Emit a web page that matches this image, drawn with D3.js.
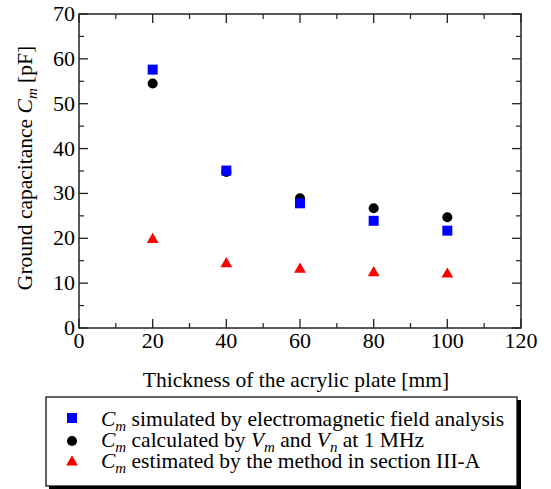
<!DOCTYPE html>
<html><head><meta charset="utf-8">
<script src="https://cdn.jsdelivr.net/npm/d3@7"></script>
<style>body{margin:0;background:#fff}svg{display:block}</style>
</head><body><svg id="c" width="551" height="489" font-family="'Liberation Serif', 'Times New Roman', Times, serif"></svg>
<script>
const thickness = [20, 40, 60, 80, 100];
const simulated = [57.6, 35.1, 27.8, 23.9, 21.7];
const calculated = [54.5, 34.8, 28.9, 26.7, 24.7];
const estimated = [19.7, 14.3, 13.1, 12.3, 12.0];
const xTicks = [0, 20, 40, 60, 80, 100, 120];
const yTicks = [0, 10, 20, 30, 40, 50, 60, 70];

const svg = d3.select("#c");
const L = 79, R = 521, T = 14, B = 328;
const x = d3.scaleLinear().domain([0, 120]).range([L, R]);
const y = d3.scaleLinear().domain([0, 70]).range([B, T]);
const axCol = "#222";

svg.append("rect").attr("x", L).attr("y", T).attr("width", R - L).attr("height", B - T)
  .attr("fill", "none").attr("stroke", axCol).attr("stroke-width", 1.5);

const g = svg.append("g");
const xMinor = d3.range(10, 120, 20);
const yMinor = d3.range(5, 70, 10);
xTicks.forEach(v => {
  g.append("line").attr("x1", x(v)).attr("x2", x(v)).attr("y1", B).attr("y2", B - 9).attr("stroke", axCol).attr("stroke-width", 1.3);
  g.append("line").attr("x1", x(v)).attr("x2", x(v)).attr("y1", T).attr("y2", T + 9).attr("stroke", axCol).attr("stroke-width", 1.3);
});
xMinor.forEach(v => {
  g.append("line").attr("x1", x(v)).attr("x2", x(v)).attr("y1", B).attr("y2", B - 5).attr("stroke", axCol).attr("stroke-width", 1.2);
  g.append("line").attr("x1", x(v)).attr("x2", x(v)).attr("y1", T).attr("y2", T + 5).attr("stroke", axCol).attr("stroke-width", 1.2);
});
yTicks.forEach(v => {
  g.append("line").attr("x1", L).attr("x2", L + 9).attr("y1", y(v)).attr("y2", y(v)).attr("stroke", axCol).attr("stroke-width", 1.3);
  g.append("line").attr("x1", R).attr("x2", R - 9).attr("y1", y(v)).attr("y2", y(v)).attr("stroke", axCol).attr("stroke-width", 1.3);
});
yMinor.forEach(v => {
  g.append("line").attr("x1", L).attr("x2", L + 5).attr("y1", y(v)).attr("y2", y(v)).attr("stroke", axCol).attr("stroke-width", 1.2);
  g.append("line").attr("x1", R).attr("x2", R - 5).attr("y1", y(v)).attr("y2", y(v)).attr("stroke", axCol).attr("stroke-width", 1.2);
});

xTicks.forEach(v => {
  svg.append("text").attr("x", x(v)).attr("y", 348).attr("text-anchor", "middle").attr("font-size", 22).text(v);
});
yTicks.forEach(v => {
  svg.append("text").attr("x", 75).attr("y", y(v) + 7).attr("text-anchor", "end").attr("font-size", 22).text(v);
});

svg.append("text").attr("x", 296).attr("y", 387).attr("text-anchor", "middle").attr("font-size", 21.5)
  .text("Thickness of the acrylic plate [mm]");
const yt = svg.append("text").attr("transform", "translate(32,168) rotate(-90)").attr("text-anchor", "middle").attr("font-size", 21.5);
yt.append("tspan").text("Ground capacitance ");
yt.append("tspan").attr("font-style", "italic").text("C");
yt.append("tspan").attr("font-style", "italic").attr("font-size", 15).attr("dy", 5).text("m");
yt.append("tspan").attr("dy", -5).text(" [pF]");

const sq = d3.symbol().type(d3.symbolSquare).size(100);
const ci = d3.symbol().type(d3.symbolCircle).size(80);
const tr = d3.symbol().type(d3.symbolTriangle).size(60);
const series = [
  {vals: calculated, sym: ci, col: "#000"},
  {vals: simulated, sym: sq, col: "#0000ff"},
  {vals: estimated, sym: tr, col: "#ff0000"}
];
series.forEach(s => {
  svg.append("g").selectAll("path").data(thickness).join("path")
    .attr("d", s.sym).attr("fill", s.col)
    .attr("transform", (d, i) => `translate(${x(d)},${y(s.vals[i])})`);
});

svg.append("rect").attr("x", 49).attr("y", 400).attr("width", 472).attr("height", 89).attr("fill", "#000");
svg.append("rect").attr("x", 46).attr("y", 397).attr("width", 471).attr("height", 89).attr("fill", "#fff").attr("stroke", "#000").attr("stroke-width", 1.2);
const leg = [
  {sym: sq, col: "#0000ff", my: 418, rest: [[" simulated by electromagnetic field analysis", false]]},
  {sym: ci, col: "#000", my: 441, rest: [[" calculated by ", false], ["V", true, "m"], [" and ", false], ["V", true, "n"], [" at 1 MHz", false]]},
  {sym: tr, col: "#ff0000", my: 462, rest: [[" estimated by the method in section III-A", false]]}
];
leg.forEach((e, i) => {
  svg.append("path").attr("d", e.sym).attr("fill", e.col).attr("transform", `translate(72,${e.my})`);
  const t = svg.append("text").attr("x", 101).attr("y", 426 + i * 21).attr("font-size", 21.5);
  t.append("tspan").attr("font-style", "italic").text("C");
  t.append("tspan").attr("font-style", "italic").attr("font-size", 15).attr("dy", 5).text("m");
  let down = true;
  e.rest.forEach(p => {
    const s = t.append("tspan").text(p[0]);
    if (down) { s.attr("dy", -5); down = false; }
    if (p[1]) {
      s.attr("font-style", "italic");
      t.append("tspan").attr("font-style", "italic").attr("font-size", 15).attr("dy", 5).text(p[2]);
      down = true;
    }
  });
});
</script></body></html>
